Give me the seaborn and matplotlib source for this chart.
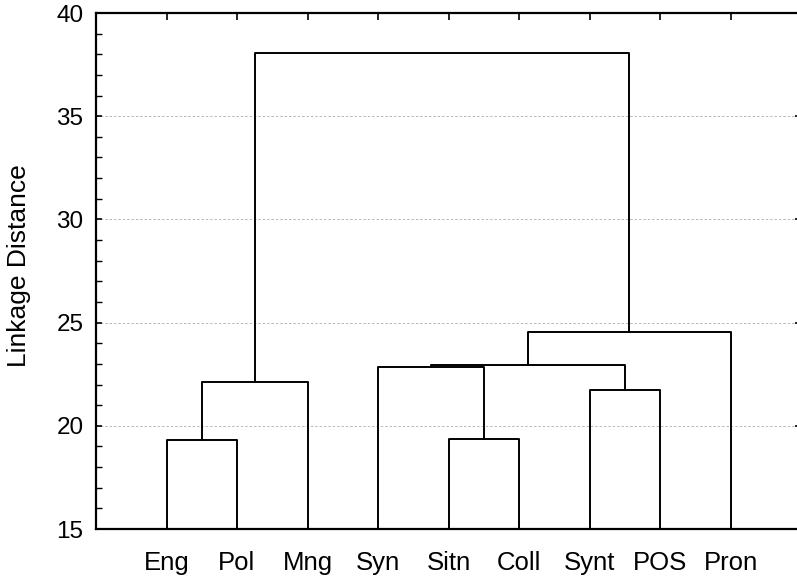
import matplotlib
matplotlib.use("Agg")
import seaborn as sns
import matplotlib.pyplot as plt
import pandas as pd
from matplotlib.ticker import MultipleLocator

# leaves in plotting order
leaves = ["Eng", "Pol", "Mng", "Syn", "Sitn", "Coll", "Synt", "POS", "Pron"]

# merges: children ids (0-8 leaves, 9+ earlier merges) and linkage distance
merge_left = [0, 4, 6, 9, 3, 13, 14, 12]
merge_right = [1, 5, 7, 2, 10, 11, 8, 15]
merge_height = [19.31, 19.36, 21.75, 22.12, 22.87, 22.93, 24.53, 38.06]

y_ticks = [15, 20, 25, 30, 35, 40]

sns.set_style("white", rc={"text.color": "black", "xtick.color": "black",
                           "ytick.color": "black", "axes.labelcolor": "black"})
plt.rcParams["font.family"] = ["Liberation Sans", "DejaVu Sans"]

# node coordinates: leaves sit on the baseline
base = y_ticks[0]
node_x = {i: i + 1 for i in range(len(leaves))}
node_y = {i: base for i in range(len(leaves))}

rows = []
for k, (a, b, h) in enumerate(zip(merge_left, merge_right, merge_height)):
    nid = len(leaves) + k
    pts = [(node_x[a], node_y[a]), (node_x[a], h), (node_x[b], h), (node_x[b], node_y[b])]
    for order, (x, y) in enumerate(pts):
        rows.append(dict(link=nid, order=order, x=x, y=y))
    node_x[nid] = (node_x[a] + node_x[b]) / 2
    node_y[nid] = h
df = pd.DataFrame(rows)

fig = plt.figure(figsize=(7.97, 5.79), dpi=100)
ax = fig.add_axes([96 / 797, 1 - 529 / 579, 705 / 797, 516 / 579])

sns.lineplot(data=df, x="x", y="y", units="link", estimator=None, sort=False,
             color="black", linewidth=1.4, ax=ax, zorder=3)

ax.set_xlim(0, len(leaves) + 1)
ax.set_ylim(y_ticks[0], y_ticks[-1])
ax.set_xticks(range(1, len(leaves) + 1))
ax.set_xticklabels(leaves, fontsize=18.5)
ax.set_yticks(y_ticks)
ax.set_yticklabels([str(t) for t in y_ticks], fontsize=17.5)
ax.yaxis.set_minor_locator(MultipleLocator(1))

ax.tick_params(axis="x", bottom=False, top=True, labelbottom=True,
               direction="in", length=5, width=1.2, pad=16)
ax.tick_params(axis="y", which="major", left=True, right=True,
               direction="in", length=4, width=1.2, pad=9)
ax.tick_params(axis="y", which="minor", left=True, right=False,
               direction="in", length=4, width=1.0)

ax.grid(axis="y", which="major", color="#b8b8b8", linewidth=0.7,
        linestyle=(0, (2.5, 2)))
ax.set_axisbelow(True)

for s in ax.spines.values():
    s.set_visible(True)
    s.set_color("black")
    s.set_linewidth(1.6)

ax.set_xlabel("")
ax.set_ylabel("Linkage Distance", fontsize=19)
ax.yaxis.set_label_coords(-0.092, 0.51)

fig.savefig("out.png", dpi=100)
